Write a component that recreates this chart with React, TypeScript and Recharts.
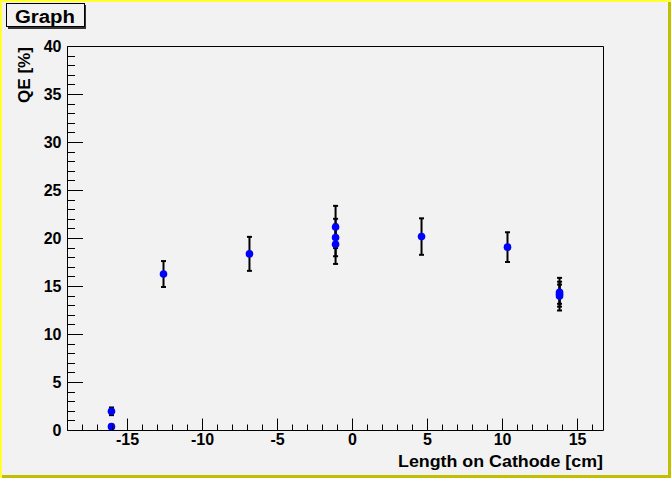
import React from "react";
import {
  ScatterChart,
  Scatter,
  XAxis,
  YAxis,
  ErrorBar,
  ReferenceArea,
} from "recharts";

// position on cathode [cm]
const positions = [-16.07, -16.07, -12.6, -6.87, -1.13, -1.13, -1.13, 4.6, 10.33, 13.8, 13.8, 13.8];
// quantum efficiency [%]
const qeValues = [2.0, 0.4, 16.3, 18.4, 21.2, 20.1, 19.4, 20.2, 19.1, 14.4, 14.0, 14.2];
const qeErrors = [0.4, 0.2, 1.35, 1.77, 2.2, 1.95, 2.05, 1.9, 1.55, 1.5, 1.5, 1.0];

const xMajorTicks = [-15, -10, -5, 0, 5, 10, 15];
const yMajorTicks = [0, 5, 10, 15, 20, 25, 30, 35, 40];

const X_MIN = -19;
const X_MAX = 16.73;
const Y_MIN = 0;
const Y_MAX = 40;

const xTicks: number[] = [];
for (let v = -18; v <= 16; v++) xTicks.push(v);
const yTicks: number[] = [];
for (let v = 0; v <= 40; v++) yTicks.push(v);

const data = positions.map((x, i) => ({ x, qe: qeValues[i], err: qeErrors[i] }));

const FONT = "'Liberation Sans', Arial, Helvetica, sans-serif";

const crisp = (v: number) => Math.round(v - 0.5) + 0.5;

const XTick = (props: any) => {
  const { x, y, payload } = props;
  const v = payload.value;
  const major = xMajorTicks.includes(v);
  const cx = crisp(x);
  return (
    <g>
      <line x1={cx} y1={y} x2={cx} y2={y - (major ? 12 : 6)} stroke="#000" strokeWidth={1} />
      {major && (
        <text x={x} y={y + 14.5} textAnchor="middle" fontFamily={FONT} fontWeight="bold" fontSize={16} fill="#000">
          {String(v)}
        </text>
      )}
    </g>
  );
};

const YTick = (props: any) => {
  const { x, y, payload } = props;
  const v = payload.value;
  const major = yMajorTicks.includes(v);
  const cy = crisp(y);
  return (
    <g>
      <line x1={x} y1={cy} x2={x + (major ? 15.5 : 7.5)} y2={cy} stroke="#000" strokeWidth={1} />
      {major && (
        <text x={x - 6} y={y + 5.5} textAnchor="end" fontFamily={FONT} fontWeight="bold" fontSize={16} fill="#000">
          {String(v)}
        </text>
      )}
    </g>
  );
};

const Marker = (props: any) => <circle cx={props.cx} cy={props.cy} r={3.8} fill="#0000ff" />;

export default function App() {
  return (
    <div
      style={{
        position: "absolute",
        left: 0,
        top: 0,
        width: 671,
        height: 478,
        background: "#f2f2f2",
        fontFamily: FONT,
      }}
    >
      <ScatterChart
        width={671}
        height={478}
        margin={{ top: 46.5, right: 67.5, bottom: 17.5, left: 7.5 }}
        style={{ position: "absolute", left: 0, top: 0 }}
      >
        <XAxis
          type="number"
          dataKey="x"
          domain={[X_MIN, X_MAX]}
          ticks={xTicks}
          interval={0}
          allowDataOverflow
          axisLine={false}
          tickLine={false}
          tickSize={0}
          tickMargin={0}
          height={30}
          tick={XTick}
        />
        <YAxis
          type="number"
          dataKey="qe"
          domain={[Y_MIN, Y_MAX]}
          ticks={yTicks}
          interval={0}
          allowDataOverflow
          axisLine={false}
          tickLine={false}
          tickSize={0}
          tickMargin={0}
          width={60}
          tick={YTick}
        />
        <ReferenceArea x1={X_MIN} x2={X_MAX} y1={Y_MIN} y2={Y_MAX} fill="none" stroke="#000" strokeWidth={1} fillOpacity={0} />
        <Scatter data={data} shape={Marker} isAnimationActive={false}>
          <ErrorBar dataKey="err" direction="y" stroke="#000" strokeWidth={2} width={2.5} />
        </Scatter>
      </ScatterChart>

      <svg width={671} height={478} style={{ position: "absolute", left: 0, top: 0, pointerEvents: "none" }}>
        {/* title box */}
        <rect x={8} y={5} width={78} height={24} fill="#333" />
        <rect x={6.5} y={3.5} width={78} height={23} fill="#f2f2f2" stroke="#000" strokeWidth={1} />
        <text x={15} y={22.5} textLength={60} lengthAdjust="spacingAndGlyphs" fontFamily={FONT} fontWeight="bold" fontSize={18} fill="#000">
          Graph
        </text>
        {/* axis titles */}
        <text transform="translate(30,47) rotate(-90)" textAnchor="end" textLength={56} lengthAdjust="spacingAndGlyphs" fontFamily={FONT} fontWeight="bold" fontSize={16} fill="#000">
          QE [%]
        </text>
        <text x={603} y={467} textAnchor="end" textLength={205} lengthAdjust="spacingAndGlyphs" fontFamily={FONT} fontWeight="bold" fontSize={16} fill="#000">
          Length on Cathode [cm]
        </text>
        {/* canvas border */}
        <line x1={0} y1={1} x2={671} y2={1} stroke="#ffff33" strokeWidth={2} />
        <line x1={1} y1={0} x2={1} y2={478} stroke="#ffff33" strokeWidth={2} />
        <line x1={669.5} y1={2} x2={669.5} y2={478} stroke="#c0c000" strokeWidth={3} />
        <line x1={2} y1={476.5} x2={671} y2={476.5} stroke="#c0c000" strokeWidth={3} />
      </svg>
    </div>
  );
}
